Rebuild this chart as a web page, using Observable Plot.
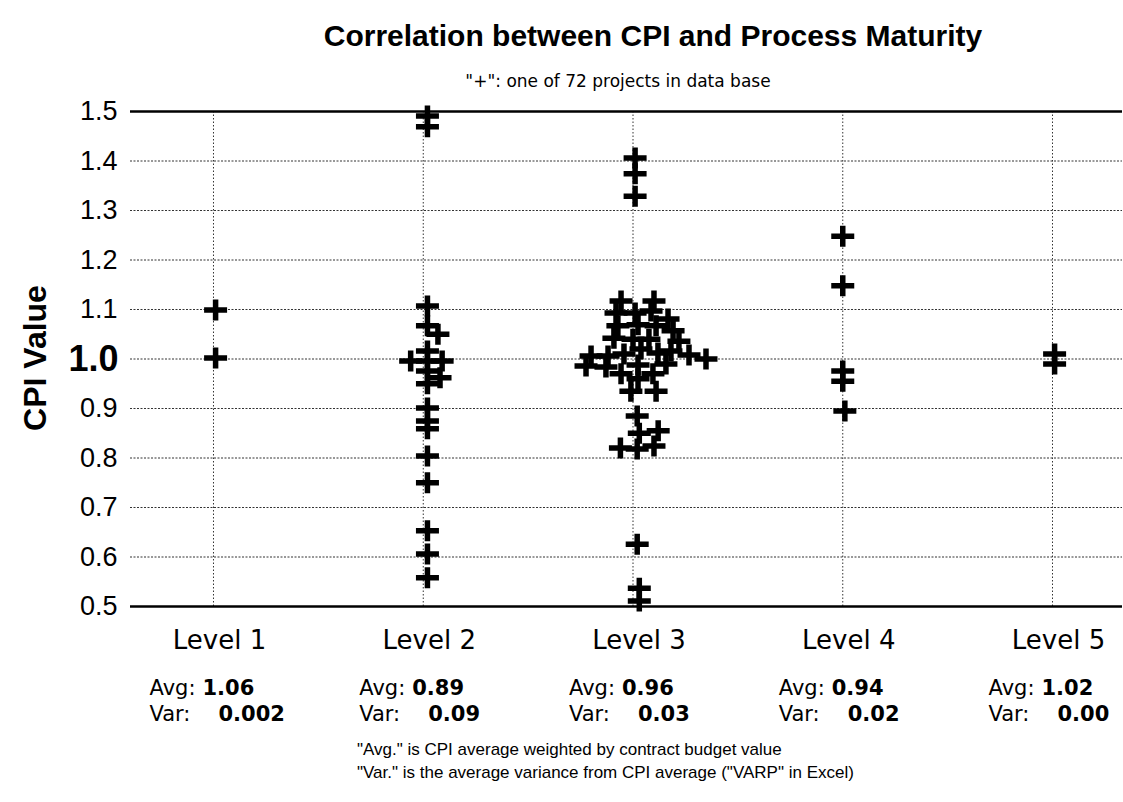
<!DOCTYPE html>
<html><head><meta charset="utf-8">
<script src="https://cdn.jsdelivr.net/npm/d3@7"></script>
<script src="https://cdn.jsdelivr.net/npm/@observablehq/plot@0.6"></script>
<style>
body{margin:0;background:#fff;font-family:"Liberation Sans",Arial,sans-serif;color:#000}
#wrap{position:relative;width:1123px;height:802px;overflow:hidden;background:#fff}
.t{position:absolute;white-space:nowrap;line-height:1}
</style></head><body><div id="wrap">
<div class="t" style="left:653px;top:21px;transform:translateX(-50%);font-size:30px;font-weight:bold">Correlation between CPI and Process Maturity</div>
<div class="t" style="left:618px;top:73px;transform:translateX(-50%);font-size:17px;font-family:'DejaVu Sans',sans-serif">"+": one of 72 projects in data base</div>
<div class="t" style="left:35px;top:358px;transform:translate(-50%,-50%) rotate(-90deg);font-size:32px;font-weight:bold">CPI Value</div>
<div id="chart" style="position:absolute;left:0;top:88px"></div>
<div class="t" style="left:357px;top:741px;font-size:17px">"Avg." is CPI average weighted by contract budget value</div>
<div class="t" style="left:357px;top:764px;font-size:17px">"Var." is the average variance from CPI average ("VARP" in Excel)</div>
</div>
<script>
const levels = [1, 2, 3, 4, 5];
const levelLabels = ["Level 1", "Level 2", "Level 3", "Level 4", "Level 5"];
const avgValues = ["1.06", "0.89", "0.96", "0.94", "1.02"];
const varValues = ["0.002", "0.09", "0.03", "0.02", "0.00"];
const yTicks = [0.5, 0.6, 0.7, 0.8, 0.9, 1.0, 1.1, 1.2, 1.3, 1.4, 1.5];

// [x position (level, spread where points overlap), CPI value]
const level1 = [[1.01, 1.099], [1.01, 1.002]];
const level2 = [
  [2.02, 1.491], [2.02, 1.469], [2.02, 1.107], [2.02, 1.067], [2.07, 1.050],
  [2.02, 1.016], [1.94, 0.996], [2.02, 0.996], [2.09, 0.996], [2.02, 0.976],
  [2.08, 0.962], [2.02, 0.950], [2.02, 0.901], [2.02, 0.875], [2.02, 0.859],
  [2.02, 0.804], [2.02, 0.750], [2.02, 0.653], [2.02, 0.606], [2.02, 0.558]
];
const level3 = [
  [3.01, 1.406], [3.01, 1.374], [3.01, 1.329],
  [2.943, 1.117], [3.100, 1.117], [2.919, 1.093], [3.010, 1.093], [3.086, 1.097],
  [3.167, 1.081], [2.928, 1.067], [3.024, 1.069], [3.110, 1.067], [3.191, 1.057],
  [2.909, 1.042], [3.000, 1.040], [3.076, 1.040], [3.219, 1.036], [2.800, 1.006],
  [2.881, 1.006], [2.957, 1.010], [3.038, 1.020], [3.119, 1.012], [3.181, 1.016],
  [3.267, 1.008], [3.348, 1.000], [2.776, 0.986], [2.871, 0.984], [3.024, 0.988],
  [3.157, 0.990], [2.943, 0.970], [3.095, 0.970], [3.024, 0.960], [2.990, 0.935],
  [3.110, 0.935],
  [3.02, 0.885], [3.03, 0.850], [3.12, 0.855], [2.94, 0.820], [3.02, 0.818],
  [3.10, 0.824], [3.02, 0.626], [3.03, 0.537], [3.03, 0.511]
];
const level4 = [[4.0, 1.248], [4.0, 1.148], [4.0, 0.976], [4.0, 0.955], [4.01, 0.895]];
const level5 = [[5.01, 1.010], [5.01, 0.990]];

const points = [...level1, ...level2, ...level3, ...level4, ...level5].map(([x, cpi]) => ({x, cpi}));
const stats = levels.map((l, i) => ({level: l, label: levelLabels[i], avg: avgValues[i], vr: varValues[i]}));

const plusSymbol = {
  draw(ctx, size) {
    const r = Math.sqrt(size / Math.PI);
    ctx.moveTo(-r - 0.5, 0); ctx.lineTo(r + 0.5, 0);
    ctx.moveTo(0, -r + 0.5); ctx.lineTo(0, r - 0.5);
  }
};

const wide = "'DejaVu Sans', sans-serif";
const chart = Plot.plot({
  width: 1123, height: 642,
  marginLeft: 130, marginRight: 1, marginTop: 23, marginBottom: 124,
  x: {domain: [0.6043, 5.3337], axis: null},
  y: {domain: [0.5, 1.5], axis: null},
  style: {fontFamily: "'Liberation Sans', Arial, sans-serif", background: "transparent", color: "#000"},
  marks: [
    Plot.ruleY(yTicks.filter(d => d > 0.5 && d < 1.5), {stroke: "#333", strokeWidth: 1, strokeDasharray: "2,1.5"}),
    Plot.ruleX(levels, {y1: 0.5, y2: 1.5, stroke: "#333", strokeWidth: 1, strokeDasharray: "1.5,2"}),
    Plot.ruleY([0.5, 1.5], {stroke: "#000", strokeWidth: 2.5}),
    Plot.text(yTicks.filter(d => d !== 1), {y: d => d, text: d => d.toFixed(1), frameAnchor: "left", dx: -13, textAnchor: "end", fontSize: 27}),
    Plot.text(yTicks.filter(d => d === 1), {y: d => d, text: d => d.toFixed(1), frameAnchor: "left", dx: -12, textAnchor: "end", fontSize: 36, fontWeight: "bold"}),
    Plot.dot(points, {x: "x", y: "cpi", symbol: plusSymbol, r: 11, stroke: "#000", strokeWidth: 5.5, fill: "none"}),
    Plot.text(stats, {x: "level", text: "label", frameAnchor: "bottom", dy: 42, dx: 6, fontSize: 26, fontFamily: wide}),
    Plot.text(stats, {x: "level", text: () => "Avg:", frameAnchor: "bottom", dy: 88, dx: -64, textAnchor: "start", fontSize: 21, fontFamily: wide}),
    Plot.text(stats, {x: "level", text: "avg", frameAnchor: "bottom", dy: 88, dx: -11, textAnchor: "start", fontSize: 21, fontWeight: "bold", fontFamily: wide}),
    Plot.text(stats, {x: "level", text: () => "Var:", frameAnchor: "bottom", dy: 114, dx: -64, textAnchor: "start", fontSize: 21, fontFamily: wide}),
    Plot.text(stats, {x: "level", text: "vr", frameAnchor: "bottom", dy: 114, dx: 5, textAnchor: "start", fontSize: 21, fontWeight: "bold", fontFamily: wide})
  ]
});
document.getElementById("chart").appendChild(chart);
</script>
</body></html>
